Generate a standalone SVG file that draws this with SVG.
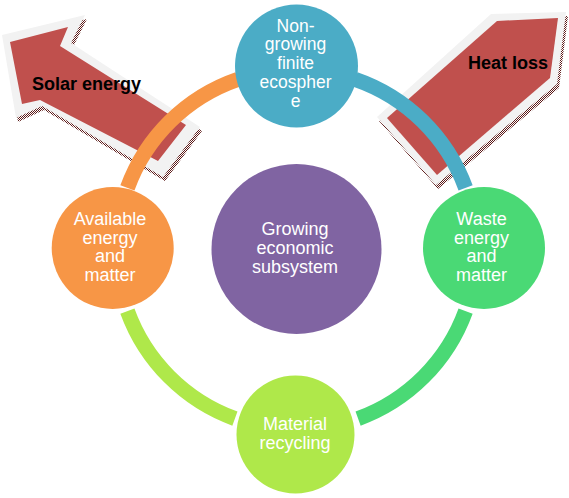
<svg xmlns="http://www.w3.org/2000/svg" width="569" height="498" viewBox="0 0 569 498">
<defs>
<pattern id="dith" width="2" height="2" patternUnits="userSpaceOnUse"><rect width="1" height="1" fill="#5c1a18"/><rect x="1" y="1" width="1" height="1" fill="#5c1a18"/></pattern>
<style>
.shadow{fill:url(#dith);}
.rim{fill:#F2F2F2;}
.body{fill:#C0504D;}
.alabel{font-family:"Liberation Sans",Arial,sans-serif;font-weight:bold;font-size:18px;fill:#000;}
.nlabel{font-family:"Liberation Sans",Arial,sans-serif;font-size:18px;fill:#fff;text-anchor:middle;}
.arc{fill:none;stroke-width:15;stroke-linecap:butt;}
</style>
</defs>
<rect width="569" height="498" fill="#fff"/>
<g id="solar-energy">
<polygon class="shadow" transform="translate(2,4)" points="2,35 85,15 71,43 200,127 163,177 42,106 16,118"/>
<polygon class="rim" points="2,35 85,15 71,43 200,127 163,177 42,106 16,118"/>
<polygon class="body" points="10,42 68,27 60,46 186,125 158,161 40,100 22,104"/>
<text class="alabel" x="32" y="90">Solar energy</text>
</g>
<g id="heat-loss">
<polygon class="shadow" transform="translate(2,4)" points="377,117 491,14 566,12 557,84 436,185"/>
<polygon class="rim" points="377,117 491,14 566,12 557,84 436,185"/>
<polygon class="body" points="387,118 497,21 558,18 550,78 437,175"/>
<text class="alabel" x="468" y="69">Heat loss</text>
</g>
<g id="connectors">
<path class="arc" stroke="#F79646" d="M 127.4 187.9 A 180 180 0 0 1 237.9 79.3"/>
<path class="arc" stroke="#4BACC6" d="M 355.1 79.3 A 180 180 0 0 1 465.6 187.9"/>
<path class="arc" stroke="#4AD975" d="M 465.6 311.1 A 180 180 0 0 1 358.1 418.6"/>
<path class="arc" stroke="#AFE84A" d="M 234.9 418.6 A 180 180 0 0 1 127.4 311.1"/>
</g>
<g id="growing-economic-subsystem">
<circle cx="296.5" cy="249" r="85" fill="#8064A2"/>
<text class="nlabel" x="295" y="235">Growing</text>
<text class="nlabel" x="295" y="253.7">economic</text>
<text class="nlabel" x="295" y="272.5">subsystem</text>
</g>
<g id="non-growing-finite-ecosphere">
<circle cx="296.5" cy="66" r="61.5" fill="#4BACC6"/>
<text class="nlabel" x="295.5" y="31.7" style="font-size:17.5px">Non-</text>
<text class="nlabel" x="295.5" y="50.4" style="font-size:17.5px">growing</text>
<text class="nlabel" x="295.5" y="69.2" style="font-size:17.5px">finite</text>
<text class="nlabel" x="295.5" y="87.9" style="font-size:17.5px">ecospher</text>
<text class="nlabel" x="295.5" y="106.7" style="font-size:17.5px">e</text>
</g>
<g id="available-energy-and-matter">
<circle cx="112.7" cy="248" r="61" fill="#F79646"/>
<text class="nlabel" x="110" y="225">Available</text>
<text class="nlabel" x="110" y="243.7">energy</text>
<text class="nlabel" x="110" y="262.3">and</text>
<text class="nlabel" x="110" y="281">matter</text>
</g>
<g id="waste-energy-and-matter">
<circle cx="484" cy="248" r="61" fill="#4AD975"/>
<text class="nlabel" x="481.5" y="225">Waste</text>
<text class="nlabel" x="481.5" y="243.7">energy</text>
<text class="nlabel" x="481.5" y="262.3">and</text>
<text class="nlabel" x="481.5" y="281">matter</text>
</g>
<g id="material-recycling">
<circle cx="295.5" cy="434.5" r="59" fill="#AFE84A"/>
<text class="nlabel" x="295" y="430">Material</text>
<text class="nlabel" x="295" y="448.5">recycling</text>
</g>
</svg>
